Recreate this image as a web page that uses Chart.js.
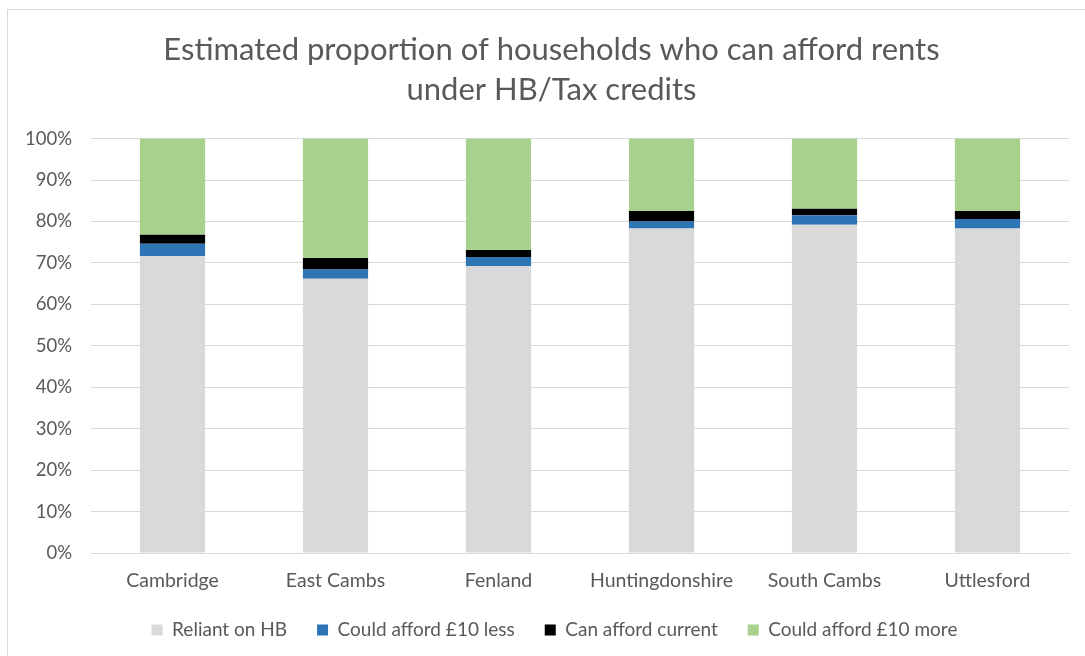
<!DOCTYPE html>
<html>
<head>
<meta charset="utf-8">
<script src="https://cdn.jsdelivr.net/npm/chart.js@4.4.1/dist/chart.umd.min.js"></script>
<style>
  html, body { margin: 0; padding: 0; background: #fff; }
  #wrap { position: relative; width: 1085px; height: 656px; }
  #frame { position: absolute; left: 7px; top: 9px; right: 0; bottom: 0;
           border-left: 1px solid #d9d9d9; border-top: 1px solid #d9d9d9; }
  canvas { position: absolute; left: 0; top: 0; }
</style>
</head>
<body>
<div id="wrap">
  <div id="frame"></div>
  <canvas id="rentChart" width="1085" height="656"></canvas>
</div>
<script>
const districts = ['Cambridge', 'East Cambs', 'Fenland', 'Huntingdonshire', 'South Cambs', 'Uttlesford'];
const reliantOnHB = [71.7, 66.2, 69.2, 78.3, 79.2, 78.3];
const affordLess10 = [2.9, 2.2, 2.2, 1.7, 2.3, 2.3];
const affordCurrent = [2.2, 2.8, 1.7, 2.5, 1.6, 1.9];
const affordMore10 = [23.2, 28.8, 26.9, 17.5, 16.9, 17.5];
const titleLines = ['Estimated proportion of households who can afford rents', 'under HB/Tax credits'];

const txtColor = '#595959';
const fontFam = 'Lato, "Open Sans", sans-serif';

// nudge title and legend so they sit centred like in the original sheet
const centreShift = {
  id: 'centreShift',
  afterLayout(c) {
    c.titleBlock.left += 17;
    c.titleBlock.right += 17;
    c.legend.left += 20;
    c.legend.right += 20;
  }
};

const ctx = document.getElementById('rentChart').getContext('2d');
const chart = new Chart(ctx, {
  type: 'bar',
  data: {
    labels: districts,
    datasets: [
      { label: 'Reliant on HB', data: reliantOnHB, backgroundColor: '#d9d9d9' },
      { label: 'Could afford £10 less', data: affordLess10, backgroundColor: '#2e75b6' },
      { label: 'Can afford current', data: affordCurrent, backgroundColor: '#000000' },
      { label: 'Could afford £10 more', data: affordMore10, backgroundColor: '#a9d18e' }
    ]
  },
  plugins: [centreShift],
  options: {
    responsive: false,
    animation: false,
    devicePixelRatio: 1,
    layout: { padding: { left: 0, right: 16, top: 0, bottom: 6.5 } },
    datasets: { bar: { categoryPercentage: 1, barPercentage: 0.4, borderWidth: 0 } },
    plugins: {
      title: {
        display: true,
        text: titleLines,
        color: txtColor,
        font: { family: fontFam, size: 31, weight: 'normal', lineHeight: 1.3 },
        padding: { top: 30, bottom: 28 }
      },
      legend: {
        position: 'bottom',
        labels: {
          color: txtColor,
          boxWidth: 11,
          boxHeight: 11,
          padding: 30,
          font: { family: fontFam, size: 19 }
        }
      },
      tooltip: { enabled: false }
    },
    scales: {
      x: {
        stacked: true,
        afterFit: s => { s.height = 37.5; },
        grid: { display: false, drawTicks: false },
        border: { display: true, color: '#d9d9d9', width: 1 },
        ticks: { color: txtColor, padding: 16, font: { family: fontFam, size: 19.5 } }
      },
      y: {
        stacked: true,
        min: 0,
        max: 100,
        afterFit: s => { s.width = 91; },
        grid: { color: '#d9d9d9', lineWidth: 1, drawTicks: false },
        border: { display: false },
        ticks: {
          stepSize: 10,
          color: txtColor,
          padding: 19,
          font: { family: fontFam, size: 18.5 },
          callback: v => v + '%'
        }
      }
    }
  }
});
</script>
</body>
</html>
